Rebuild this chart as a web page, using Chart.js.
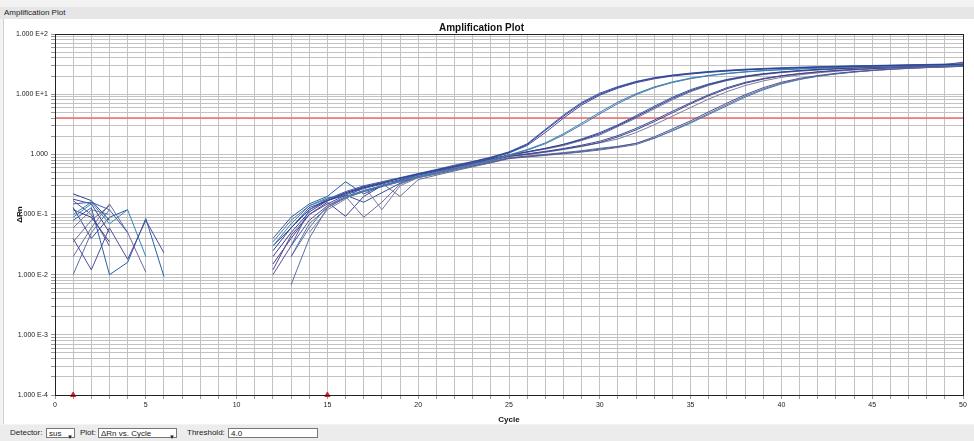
<!DOCTYPE html>
<html>
<head>
<meta charset="utf-8">
<script src="https://cdn.jsdelivr.net/npm/chart.js@4"></script>
<style>
  body { margin: 0; background: #f3f3f3; font-family: "Liberation Sans", Arial, sans-serif; }
  #wrap { position: relative; width: 974px; height: 441px; overflow: hidden; }
  #panel { position: absolute; left: 3px; top: 19px; width: 970px; height: 405px; background: #fff; border-left: 1px solid #d0d0d0; }
  #head { position: absolute; left: 0; top: 7px; width: 974px; height: 12px; background: #e6e6e6; font-size: 8px; line-height: 12px; padding-left: 4px; color: #222; }
  #foot { position: absolute; left: 0; top: 425px; width: 974px; height: 16px; background: #ececec; font-size: 8px; color: #222; }
  #foot span, #foot div { position: absolute; top: 3px; }
  .box { height: 10px; background: #fff; border: 1px solid #777; line-height: 10px; font-size: 8px; padding-left: 2px; box-sizing: border-box; }
  .arr { position: absolute; right: 1px; top: 0; font-size: 6px; }
  canvas { position: absolute; left: 0; top: 0; }
</style>
</head>
<body>
<div id="wrap">
  <div id="panel"></div>
  <div id="head">Amplification Plot</div>
  <canvas id="chart" width="974" height="441"></canvas>
  <div id="foot">
    <span style="left:10px">Detector:</span>
    <div class="box" style="left:46px;width:29px">sus<span class="arr">&#9660;</span></div>
    <span style="left:80px">Plot:</span>
    <div class="box" style="left:98px;width:79px">&Delta;Rn vs. Cycle<span class="arr">&#9660;</span></div>
    <span style="left:187px">Threshold:</span>
    <div class="box" style="left:228px;width:90px">4.0</div>
  </div>
</div>
<script>
// x categories (PCR cycle)
const cycles = [1,2,3,4,5,6,7,8,9,10,11,12,13,14,15,16,17,18,19,20,21,22,23,24,25,
  26,27,28,29,30,31,32,33,34,35,36,37,38,39,40,41,42,43,44,45,46,47,48,49,50];

// delta Rn per well, cycles 1..50 (null = not shown on log scale)
const a1 = [0.22,0.17,0.08,null,null,null, null,null,null,null,null,
  0.025,0.06,0.13,0.17,0.22,0.28,0.33,0.4,0.47,0.55,0.64,0.75,0.88,
  1.08,1.45,2.5,4.3,7.0,10.0,13.0,16.0,18.5,20.5,22.0,23.5,24.5,25.5,26.3,27.0,
  27.6,28.2,28.7,29.2,29.6,30.0,30.4,30.8,31.1,31.5];
const a2 = [0.15,0.16,0.12,0.05,null,null, null,null,null,null,null,
  null,0.03,0.12,0.18,0.24,0.3,0.35,0.41,0.48,0.56,0.66,0.76,0.9,
  1.1,1.5,2.6,4.5,7.3,10.4,13.4,16.3,18.8,20.8,22.4,23.8,25.0,26.0,26.8,27.5,
  28.1,28.6,29.1,29.6,30.0,30.4,30.8,31.2,31.6,32.0];
const a3 = [0.04,0.012,0.06,0.018,0.08,0.023, null,null,null,null,null,
  0.012,0.045,0.1,0.15,0.21,0.27,0.32,0.38,0.46,0.53,0.62,0.72,0.86,
  1.05,1.4,2.3,4.0,6.6,9.6,12.6,15.5,18.0,20.0,21.6,23.0,24.2,25.2,26.0,26.8,
  27.4,28.0,28.5,29.0,29.4,29.8,30.2,30.6,31.0,34.0];
const b1 = [0.10,0.16,0.07,0.12,0.02,null, null,null,null,null,null,
  0.03,0.07,0.14,0.19,0.2,0.25,0.3,0.36,0.43,0.5,0.58,0.68,0.8,
  0.98,1.2,1.55,2.2,3.3,5.0,7.4,10.2,13.2,16.0,18.5,20.5,22.2,23.6,24.7,25.6,
  26.4,27.1,27.7,28.3,28.8,29.3,29.7,30.1,30.5,30.9];
const b2 = [0.01,0.05,0.12,null,null,null, null,null,null,null,null,
  null,0.0068,0.04,0.13,0.19,0.24,0.3,0.35,0.42,0.49,0.57,0.67,0.79,
  0.96,1.17,1.5,2.1,3.1,4.7,7.0,9.8,12.8,15.6,18.1,20.2,21.9,23.3,24.5,25.4,
  26.2,26.9,27.5,28.1,28.6,29.1,29.5,29.9,30.2,30.5];
const c1 = [0.12,0.09,0.035,null,null,null, null,null,null,null,null,
  0.02,0.05,0.11,0.17,0.23,0.29,0.34,0.4,0.47,0.54,0.62,0.72,0.84,
  0.98,1.1,1.25,1.45,1.75,2.2,3.0,4.2,6.0,8.5,11.4,14.4,17.2,19.6,21.6,23.2,
  24.5,25.6,26.5,27.3,28.0,28.6,29.1,29.6,30.0,30.4];
const c2 = [0.02,0.06,0.15,0.05,0.011,null, null,null,null,null,null,
  null,0.02,0.06,0.14,0.2,0.09,0.16,0.32,0.42,0.5,0.6,0.7,0.82,
  0.96,1.08,1.22,1.4,1.7,2.1,2.9,4.0,5.7,8.1,11.0,14.0,16.8,19.2,21.2,22.8,
  24.1,25.2,26.1,26.9,27.6,28.2,28.8,29.3,29.7,30.0];
const c3 = [0.08,0.13,0.01,0.016,0.086,0.0093, null,null,null,null,null,
  0.04,0.09,0.15,0.2,0.35,0.22,0.3,0.37,0.45,0.52,0.61,0.71,0.83,
  0.97,1.1,1.26,1.47,1.8,2.3,3.1,4.4,6.3,8.9,11.9,14.8,17.6,20.0,21.9,23.4,
  24.7,25.8,26.7,27.5,28.2,28.8,29.3,29.8,30.2,30.6];
const d1 = [0.18,0.15,0.05,null,null,null, null,null,null,null,null,
  0.015,0.04,0.1,0.16,0.093,0.2,0.3,0.36,0.43,0.5,0.58,0.68,0.79,
  0.93,1.0,1.1,1.22,1.37,1.57,1.95,2.55,3.5,4.9,6.9,9.4,12.3,15.2,17.8,20.0,
  21.8,23.3,24.6,25.7,26.6,27.4,28.1,28.7,29.2,29.7];
const d2 = [0.06,0.12,0.1,null,null,null, null,null,null,null,null,
  null,null,0.05,0.12,0.18,0.3,0.12,0.3,0.41,0.48,0.56,0.66,0.78,
  0.92,0.99,1.08,1.2,1.35,1.55,1.8,2.3,3.1,4.3,6.0,8.3,11.0,13.9,16.6,19.0,
  21.0,22.6,24.0,25.2,26.2,27.0,27.7,28.3,28.9,29.4];
const d3 = [0.13,0.04,0.09,0.12,null,null, null,null,null,null,null,
  0.03,0.06,0.12,0.17,0.21,0.16,0.23,0.33,0.42,0.5,0.59,0.69,0.8,
  0.94,1.02,1.12,1.25,1.42,1.65,2.05,2.7,3.7,5.2,7.2,9.8,12.8,15.7,18.2,20.3,
  22.0,23.5,24.8,25.8,26.7,27.5,28.2,28.8,29.3,29.8];
const e1 = [0.17,0.1,0.03,null,null,null, null,null,null,null,null,
  0.01,0.03,0.08,0.14,0.19,0.24,0.29,0.35,0.41,0.47,0.55,0.64,0.74,
  0.86,0.92,0.98,1.04,1.12,1.22,1.34,1.52,1.95,2.65,3.6,5.1,7.1,9.8,12.8,15.8,
  18.3,20.4,22.2,23.7,25.0,26.1,27.0,27.8,28.5,29.1];
const e2 = [0.09,0.15,null,null,null,null, null,null,null,null,null,
  null,0.02,0.07,0.13,0.19,0.25,0.3,0.36,0.42,0.49,0.56,0.65,0.76,
  0.88,0.94,1.0,1.07,1.15,1.26,1.36,1.52,1.85,2.45,3.3,4.6,6.4,8.9,11.8,14.8,
  17.5,19.8,21.7,23.3,24.7,25.9,26.9,27.7,28.4,29.0];
const e3 = [0.035,0.08,0.14,null,null,null, null,null,null,null,null,
  0.035,0.08,0.14,0.18,0.23,0.28,0.33,0.2,0.38,0.45,0.53,0.62,0.72,
  0.85,0.9,0.96,1.02,1.09,1.18,1.3,1.45,1.85,2.5,3.4,4.8,6.7,9.3,12.2,15.2,
  17.8,20.0,21.8,23.4,24.7,25.8,26.8,27.6,28.3,29.0];

const wells = [a1, a2, a3, b1, b2, c1, c2, c3, d1, d2, d3, e1, e2, e3];
const wellColors = ['#2d3f91','#3a5fb0','#4f4a9c','#2e86b5','#5b6fa8','#3c3a8c','#6c6a9e',
  '#2b5ea8','#4a4088','#7a7f9c','#35509e','#5a4f96','#3f7fb0','#6b6f92'];

const threshold = 4.0;
const baselineMarks = [1, 15];   // red flags on the x axis

const xTickLabels = [0, 5, 10, 15, 20, 25, 30, 35, 40, 45, 50];
const yDecades = [1e-4, 1e-3, 1e-2, 1e-1, 1, 10, 100];
const yTickLabels = ['1.000 E-4', '1.000 E-3', '1.000 E-2', '1.000 E-1', '1.000', '1.000 E+1', '1.000 E+2'];

// minor log grid 1..9 per decade
const yGrid = [];
yDecades.slice(0, -1).forEach(d => {
  for (let k = 1; k < 10; k++) yGrid.push(+(d * k).toPrecision(3));
});
yGrid.push(100);

const datasets = wells.map((w, i) => ({
  data: w.map((v, j) => ({ x: cycles[j], y: v })),
  borderColor: wellColors[i],
  borderWidth: 1,
  pointRadius: 0,
  tension: 0,
  spanGaps: false
}));

datasets.push({
  data: [{ x: 0, y: threshold }, { x: 50, y: threshold }],
  borderColor: '#f26d6d',
  borderWidth: 1.5,
  pointRadius: 0
});

datasets.push({
  type: 'scatter',
  data: baselineMarks.map(c => ({ x: c, y: 1e-4 })),
  pointStyle: 'triangle',
  pointRadius: 3,
  backgroundColor: '#e02020',
  borderColor: '#e02020',
  clip: false
});

// frame around plot area
const framePlugin = {
  id: 'frame',
  afterDatasetsDraw(chart) {
    const { ctx, chartArea: a } = chart;
    ctx.save();
    ctx.strokeStyle = '#222';
    ctx.lineWidth = 1;
    ctx.strokeRect(a.left + 0.5, a.top + 0.5, a.right - a.left, a.bottom - a.top);
    ctx.restore();
  }
};

const tickFont = { family: 'Liberation Sans', size: 7 };

new Chart(document.getElementById('chart'), {
  type: 'line',
  data: { datasets },
  plugins: [framePlugin],
  options: {
    responsive: false,
    animation: false,
    layout: { padding: { top: 22, left: 0, right: 11, bottom: 16 } },
    plugins: {
      legend: { display: false },
      tooltip: { enabled: false },
      title: {
        display: true,
        text: 'Amplification Plot',
        color: '#111',
        font: { family: 'Liberation Sans', size: 10, weight: 'bold' },
        padding: { top: 0, bottom: 0 }
      }
    },
    scales: {
      x: {
        type: 'linear',
        min: 0,
        max: 50,
        afterFit: s => { s.height = 30; },
        afterBuildTicks: s => { s.ticks = [{ value: 0 }].concat(cycles.map(c => ({ value: c }))); },
        ticks: {
          autoSkip: false,
          maxRotation: 0,
          padding: 2,
          color: '#222',
          font: tickFont,
          callback: v => xTickLabels.includes(v) ? String(v) : ''
        },
        grid: { color: '#c2c2c2', tickLength: 4, tickColor: '#999' },
        border: { color: '#222' },
        title: {
          display: true,
          text: 'Cycle',
          color: '#111',
          font: { family: 'Liberation Sans', size: 8, weight: 'bold' },
          padding: { top: 0, bottom: 0 }
        }
      },
      y: {
        type: 'logarithmic',
        min: 1e-4,
        max: 100,
        afterFit: s => { s.width = 55; },
        afterBuildTicks: s => { s.ticks = yGrid.map(v => ({ value: v })); },
        ticks: {
          autoSkip: false,
          padding: 3,
          color: '#222',
          font: tickFont,
          callback: v => {
            const k = yDecades.findIndex(d => Math.abs(d - v) < d * 1e-6);
            return k >= 0 ? yTickLabels[k] : '';
          }
        },
        grid: { color: '#c2c2c2', tickLength: 4, tickColor: '#999' },
        border: { color: '#222' },
        title: {
          display: true,
          text: '\u0394Rn',
          color: '#111',
          font: { family: 'Liberation Sans', size: 8, weight: 'bold' },
          padding: { top: 15, bottom: 0 }
        }
      }
    }
  }
});
</script>
</body>
</html>
